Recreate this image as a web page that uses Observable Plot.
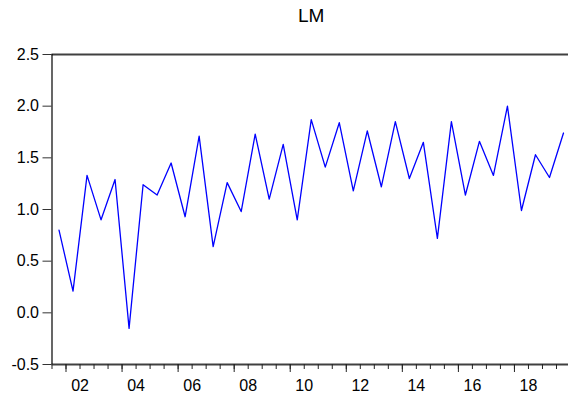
<!DOCTYPE html>
<html>
<head>
<meta charset="utf-8">
<script src="https://cdn.jsdelivr.net/npm/d3@7"></script>
<script src="https://cdn.jsdelivr.net/npm/@observablehq/plot@0.6"></script>
<style>
  html, body { margin: 0; padding: 0; background: #fff; }
  #chart { width: 568px; height: 403px; overflow: hidden; }
  svg { font-family: "Liberation Sans", Arial, sans-serif; }
</style>
</head>
<body>
<div id="chart"></div>
<script>
const title = "LM";
// semiannual periods: 2001H2 .. 2019H2
const periods = [
  "2001H2",
  "2002H1","2002H2","2003H1","2003H2","2004H1","2004H2","2005H1","2005H2",
  "2006H1","2006H2","2007H1","2007H2","2008H1","2008H2","2009H1","2009H2",
  "2010H1","2010H2","2011H1","2011H2","2012H1","2012H2","2013H1","2013H2",
  "2014H1","2014H2","2015H1","2015H2","2016H1","2016H2","2017H1","2017H2",
  "2018H1","2018H2","2019H1","2019H2"
];
const values = [
  0.80,
  0.21, 1.33, 0.90, 1.29, -0.15, 1.24, 1.14, 1.45,
  0.93, 1.71, 0.64, 1.26, 0.98, 1.73, 1.10, 1.63,
  0.90, 1.87, 1.41, 1.84, 1.18, 1.76, 1.22, 1.85,
  1.30, 1.65, 0.72, 1.85, 1.14, 1.66, 1.33, 2.00,
  0.99, 1.53, 1.31, 1.74
];
const yTicks = [-0.5, 0.0, 0.5, 1.0, 1.5, 2.0, 2.5];
const labelYears = [2002, 2004, 2006, 2008, 2010, 2012, 2014, 2016, 2018];
const xStart = 2001.5, xEnd = 2020;

// period -> decimal-year midpoint
const toX = p => +p.slice(0, 4) + (p.slice(4) === "H1" ? 0.25 : 0.75);
const data = periods.map((p, i) => ({x: toX(p), y: values[i]}));
const halfYearTicks = d3.range(xStart, xEnd + 0.001, 0.5);
const majorTicks = halfYearTicks.filter(t => Number.isInteger(t) && t % 2 === 0);

const chart = Plot.plot({
  width: 568,
  height: 403,
  marginTop: 54,
  marginBottom: 39,
  marginLeft: 51.5,
  marginRight: -2,
  style: {fontFamily: '"Liberation Sans", Arial, sans-serif', background: "#fff", overflow: "visible"},
  x: {domain: [xStart, xEnd]},
  y: {domain: [-0.5, 2.5]},
  marks: [
    Plot.ruleY([2.5, -0.5], {stroke: "#404040", strokeWidth: 2}),
    Plot.ruleX([xStart], {stroke: "#000", strokeWidth: 1.2}),
    Plot.axisY({ticks: yTicks, tickSize: 9, tickPadding: 4, tickFormat: d => d.toFixed(1), fontSize: 16, color: "#000", stroke: "#333", label: null}),
    Plot.axisX({ticks: halfYearTicks, tickSize: 5, tickFormat: () => "", label: null, stroke: "#222"}),
    Plot.axisX({ticks: majorTicks, tickSize: 8, tickFormat: () => "", label: null, stroke: "#222"}),
    Plot.axisX({ticks: labelYears.map(y => y + 0.5), tickSize: 0, tickPadding: 15, tickFormat: d => String(Math.floor(d) % 100).padStart(2, "0"), fontSize: 16, color: "#000", label: null}),
    Plot.line(data, {x: "x", y: "y", stroke: "#0000ff", strokeWidth: 1.3}),
    Plot.text([title], {frameAnchor: "top", lineAnchor: "bottom", dy: -33, text: d => d, fontSize: 19, fill: "#000"})
  ]
});
document.getElementById("chart").appendChild(chart);
</script>
</body>
</html>
